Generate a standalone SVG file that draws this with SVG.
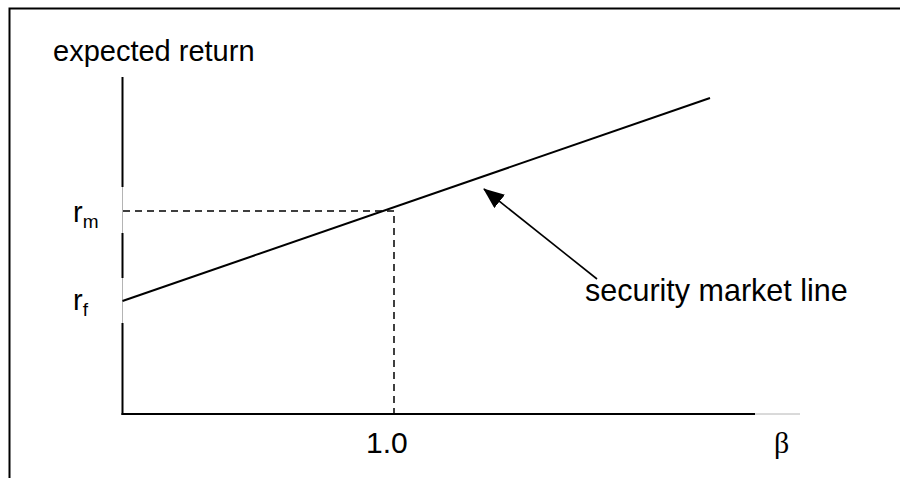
<svg xmlns="http://www.w3.org/2000/svg" width="900" height="478" viewBox="0 0 900 478">
  <style>
    .lbl { font-family: "Liberation Sans", Arial, sans-serif; font-size: 29px; fill: #000; }
    .sub { font-size: 19px; }
    .greek { font-family: "Liberation Serif", "Times New Roman", serif; font-size: 30px; fill: #000; }
    .axis { stroke: #000; stroke-width: 2; fill: none; }
    .faint { stroke: #b4b4b4; stroke-width: 1; fill: none; }
    .dash { stroke: #000; stroke-width: 1.5; stroke-dasharray: 7 5; fill: none; }
    .sml { stroke: #000; stroke-width: 2; fill: none; }
    .ptr { stroke: #000; stroke-width: 1.6; fill: none; }
  </style>
  <defs>
    <marker id="head" viewBox="0 0 21 17" refX="20" refY="8.5" markerWidth="21" markerHeight="17" markerUnits="userSpaceOnUse" orient="auto">
      <path d="M0,0 L21,8.5 L0,17 Z" fill="#000"/>
    </marker>
  </defs>

  <rect width="900" height="478" fill="#fff"/>

  <!-- outer frame -->
  <path d="M9.5,478 V8.5 H900" stroke="#000" stroke-width="2" fill="none"/>

  <g id="axes">
    <!-- vertical axis, interrupted behind the rm / rf label boxes -->
    <path class="axis" d="M122.5,77 V187 M122.5,233 V278 M122.5,323 V415"/>
    <path class="faint" d="M122.5,187 V233 M122.5,278 V323"/>
    <!-- horizontal axis, interrupted behind the beta label box -->
    <path class="axis" d="M121.5,414 H755"/>
    <path class="faint" d="M755,414 H800"/>
  </g>

  <g id="connectors">
    <!-- guide lines to the market point -->
    <path class="dash" d="M123,211 H394 V414"/>
    <!-- security market line -->
    <line class="sml" x1="122.5" y1="301" x2="710" y2="98"/>
    <!-- pointer to the line -->
    <line class="ptr" x1="597" y1="279" x2="484" y2="189" marker-end="url(#head)"/>
  </g>

  <g id="label-expected-return">
    <text class="lbl" x="53" y="61">expected return</text>
  </g>
  <g id="label-rm">
    <text class="lbl" x="73" y="222">r<tspan class="sub" dy="6">m</tspan></text>
  </g>
  <g id="label-rf">
    <text class="lbl" x="73" y="310">r<tspan class="sub" dy="6">f</tspan></text>
  </g>
  <g id="label-sml">
    <text class="lbl" x="585" y="301" style="font-size:30.5px">security market line</text>
  </g>
  <g id="label-one">
    <text class="lbl" x="366" y="453" style="font-size:30px">1.0</text>
  </g>
  <g id="label-beta">
    <text class="greek" x="774" y="453">β</text>
  </g>
</svg>
